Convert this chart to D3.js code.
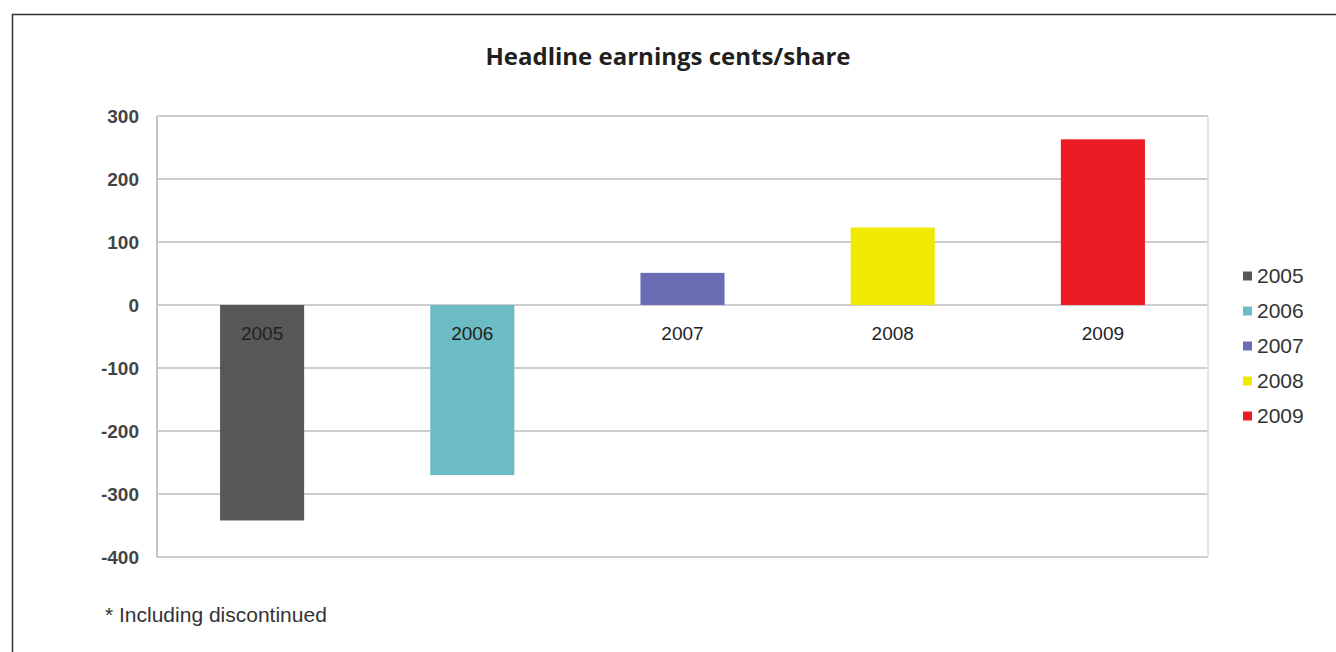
<!DOCTYPE html>
<html>
<head>
  <meta charset="utf-8">
  <script src="https://d3js.org/d3.v7.min.js"></script>
  <style>
    body { margin: 0; background: #fff; }
    svg { display: block; }
  </style>
</head>
<body>
  <div id="chart"></div>

  <script>
    // data
    var years = ["2005", "2006", "2007", "2008", "2009"];
    var earnings = [-342, -270, 51, 123, 263];
    var colors = ["#58585a", "#6cbcc4", "#6a6cb4", "#f2e900", "#ec1c24"];
    var yTicks = [300, 200, 100, 0, -100, -200, -300, -400];

    var W = 1336, H = 652;
    var margin = { top: 116, left: 157, right: 128, bottom: 95 };
    var width = W - margin.left - margin.right;
    var height = H - margin.top - margin.bottom;

    var svg = d3.select("#chart").append("svg")
      .attr("width", W)
      .attr("height", H);

    // outer frame (only left and top edges visible)
    svg.append("rect")
      .attr("x", 12.5).attr("y", 14.5)
      .attr("width", 1400).attr("height", 700)
      .attr("fill", "none")
      .attr("stroke", "#333")
      .attr("stroke-width", 1.5);

    svg.append("text")
      .attr("x", 668).attr("y", 65)
      .attr("text-anchor", "middle")
      .style("font-family", "'Open Sans', sans-serif")
      .style("font-weight", "bold")
      .style("font-size", "24px")
      .style("fill", "#231f20")
      .text("Headline earnings cents/share");

    var g = svg.append("g")
      .attr("transform", "translate(" + margin.left + "," + margin.top + ")");

    var x = d3.scaleBand()
      .domain(years)
      .range([0, width])
      .paddingInner(0.6)
      .paddingOuter(0.3);

    var y = d3.scaleLinear()
      .domain([-400, 300])
      .range([height, 0]);

    // gridlines
    g.selectAll(".grid")
      .data(yTicks)
      .enter().append("line")
      .attr("class", "grid")
      .attr("x1", 0).attr("x2", width)
      .attr("y1", function(d) { return y(d); })
      .attr("y2", function(d) { return y(d); })
      .attr("stroke", "#cdcdcd")
      .attr("stroke-width", 2);

    // plot frame sides
    g.append("line")
      .attr("x1", 0).attr("x2", 0)
      .attr("y1", 0).attr("y2", height)
      .attr("stroke", "#c4c4c4").attr("stroke-width", 2);
    g.append("line")
      .attr("x1", width).attr("x2", width)
      .attr("y1", 0).attr("y2", height)
      .attr("stroke", "#dcdcdc").attr("stroke-width", 1.5);

    // bars
    g.selectAll(".bar")
      .data(years)
      .enter().append("rect")
      .attr("class", "bar")
      .attr("x", function(d) { return x(d); })
      .attr("width", x.bandwidth())
      .attr("y", function(d, i) { return y(Math.max(0, earnings[i])); })
      .attr("height", function(d, i) { return Math.abs(y(earnings[i]) - y(0)); })
      .attr("fill", function(d, i) { return colors[i]; });

    // y axis labels
    var yAxis = g.append("g")
      .call(d3.axisLeft(y).tickValues(yTicks).tickSize(0).tickPadding(18)
        .tickFormat(function(d) { return String(d); }));
    yAxis.select(".domain").remove();
    yAxis.selectAll("text")
      .style("font-family", "'Liberation Sans', Arial, sans-serif")
      .style("font-size", "19px")
      .style("font-weight", "bold")
      .style("fill", "#444");

    // category labels just under the zero line
    var xAxis = g.append("g")
      .attr("transform", "translate(0," + y(0) + ")")
      .call(d3.axisBottom(x).tickSize(0).tickPadding(22));
    xAxis.select(".domain").remove();
    xAxis.selectAll("text")
      .style("font-family", "'Liberation Sans', Arial, sans-serif")
      .style("font-size", "19px")
      .style("fill", "#222");

    // legend
    var legend = svg.append("g")
      .attr("transform", "translate(1243,276)");
    var items = legend.selectAll(".item")
      .data(years)
      .enter().append("g")
      .attr("class", "item")
      .attr("transform", function(d, i) { return "translate(0," + (i * 35) + ")"; });
    items.append("rect")
      .attr("x", 0).attr("y", -4.5)
      .attr("width", 9).attr("height", 9)
      .attr("fill", function(d, i) { return colors[i]; });
    items.append("text")
      .attr("x", 14).attr("y", 7)
      .style("font-family", "'Liberation Sans', Arial, sans-serif")
      .style("font-size", "21px")
      .style("fill", "#333")
      .text(function(d) { return d; });

    svg.append("text")
      .attr("x", 105).attr("y", 622)
      .style("font-family", "'Liberation Sans', Arial, sans-serif")
      .style("font-size", "21px")
      .style("fill", "#333")
      .text("* Including discontinued");
  </script>
</body>
</html>
